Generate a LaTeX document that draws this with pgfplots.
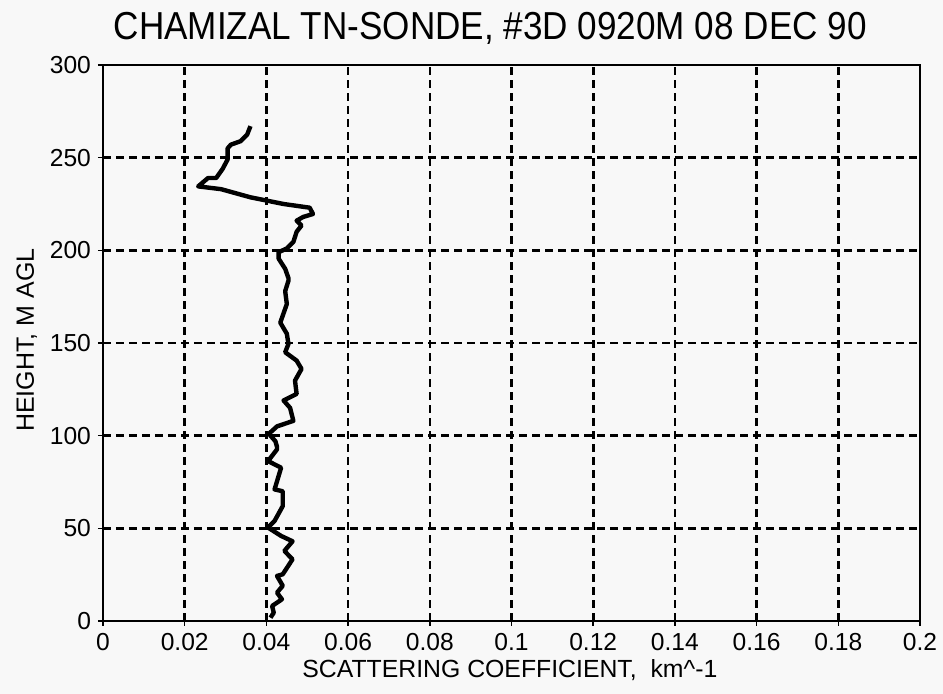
\documentclass[border=0pt]{standalone}
\usepackage{pgfplots}
\pgfplotsset{compat=1.18}
\usepackage{fontspec}
\setmainfont{Liberation Sans}
\newfontfamily\titlefont[FakeStretch=0.9]{Liberation Sans}
\definecolor{bg}{RGB}{248,248,248}
\begin{document}
\begin{tikzpicture}
\path[use as bounding box, fill=bg] (-51.5pt,-36.5pt) rectangle (420pt,310.5pt);
\begin{axis}[
  at={(0,0)}, anchor=south west,
  scale only axis,
  width=408.5pt, height=278pt,
  xmin=0, xmax=0.2, ymin=0, ymax=300,
  xtick={0,0.02,...,0.2},
  xticklabels={0,0.02,0.04,0.06,0.08,0.1,0.12,0.14,0.16,0.18,0.2},
  ytick={0,50,...,300},
  axis line style={line width=1pt},
  tick align=center,
  major tick length=5pt,
  every tick/.style={black, line width=0.8pt},
  tick label style={font=\fontsize{12.3}{14}\selectfont},
  /pgf/number format/assume math mode=true,
  xtick pos=bottom, ytick pos=left,
  grid=major,
  major grid style={black, line width=1.3pt, dash pattern=on 4pt off 2.5pt},
  title={\titlefont\fontsize{19.5}{22}\selectfont CHAMIZAL TN-SONDE, \#3D 0920M 08 DEC 90},
  title style={at={(0.474,1)}, anchor=base, yshift=6.5pt},
  xlabel={SCATTERING COEFFICIENT,\ \ km\^{}-1},
  xlabel style={at={(0.498,0)}, anchor=base, yshift=-28.5pt, font=\fontsize{12.4}{14}\selectfont},
  ylabel={HEIGHT, M AGL},
  ylabel style={at={(0,0.505)}, anchor=base, yshift=34.5pt, font=\fontsize{12.5}{14}\selectfont},
]
\addplot[black, line width=2.2pt, line join=round, no marks] table {
x y
0.0410 1.8
0.0418 4.5
0.0414 8.1
0.0438 11.7
0.0426 15.3
0.0440 19.0
0.0426 24.3
0.0440 25.2
0.0464 33.3
0.0444 37.8
0.0464 43.0
0.0436 45.9
0.0404 50.4
0.0420 54.0
0.0440 62.0
0.0440 70.0
0.0420 71.0
0.0436 82.7
0.0404 86.3
0.0426 92.6
0.0426 94
0.0422 97
0.0406 101
0.0426 105
0.0466 108
0.0458 115
0.0442 119
0.0474 122.5
0.0470 129.7
0.0486 136
0.0474 140.5
0.0446 145
0.0454 149.5
0.0450 155
0.0434 161
0.0450 171
0.0446 178
0.0454 183.6
0.0454 185
0.0446 190
0.0430 195.5
0.0430 199
0.0450 201
0.0466 204.5
0.0474 210
0.0486 213.4
0.0474 216
0.0490 218
0.0514 219.6
0.0506 223
0.0442 225
0.0361 228.6
0.0289 233
0.0233 234.5
0.0257 239
0.0277 239
0.0293 244
0.0305 249
0.0305 255
0.0313 257
0.0337 258.9
0.0353 262.5
0.0361 267
};
\end{axis}
\end{tikzpicture}
\end{document}
